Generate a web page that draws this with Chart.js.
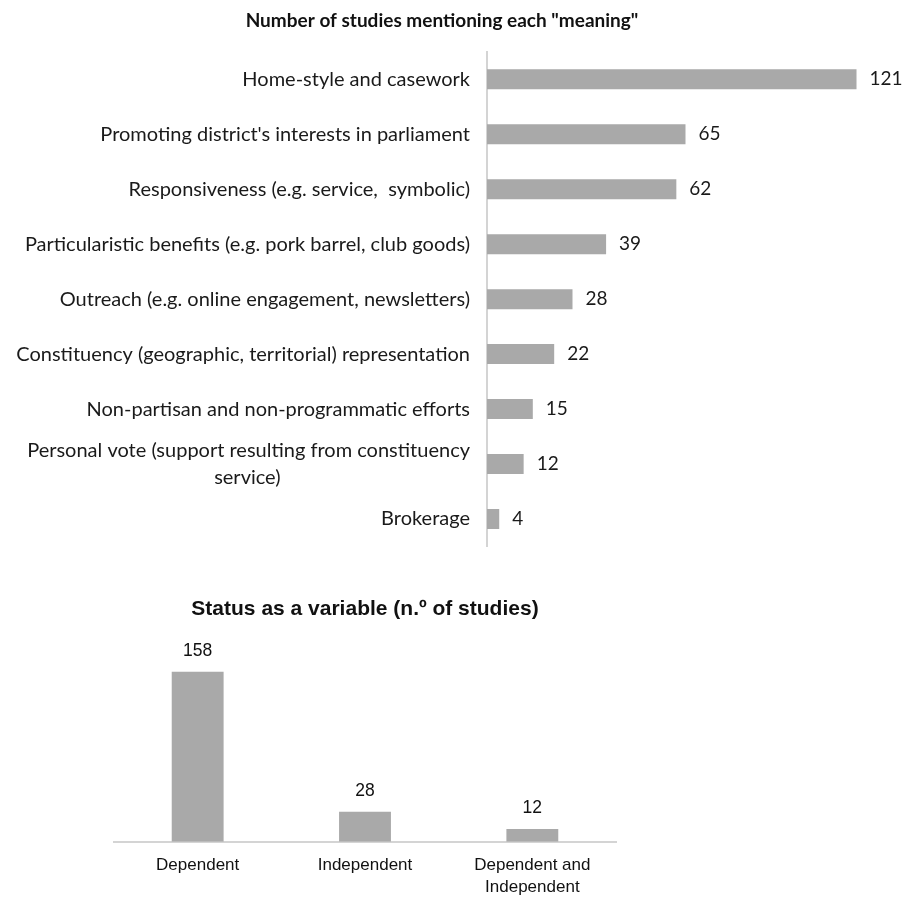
<!DOCTYPE html>
<html>
<head>
<meta charset="utf-8">
<script src="https://cdn.jsdelivr.net/npm/chart.js@4.4.1/dist/chart.umd.min.js"></script>
<style>
  html, body { margin: 0; padding: 0; background: #fff; }
  body { width: 906px; height: 897px; position: relative; overflow: hidden; }
  #meanings { position: absolute; left: 0; top: 0; }
  #status { position: absolute; left: 0; top: 585px; }
</style>
</head>
<body>
<canvas id="meanings" width="906" height="577"></canvas>
<canvas id="status" width="730" height="325"></canvas>
<script>
// Meanings of constituency service and how many studies mention each
const meaningLabels = [
  "Home-style and casework",
  "Promoting district's interests in parliament",
  "Responsiveness (e.g. service,  symbolic)",
  "Particularistic benefits (e.g. pork barrel, club goods)",
  "Outreach (e.g. online engagement, newsletters)",
  "Constituency (geographic, territorial) representation",
  "Non-partisan and non-programmatic efforts",
  ["Personal vote (support resulting from constituency", "service)"],
  "Brokerage"
];
const meaningCounts = [121, 65, 62, 39, 28, 22, 15, 12, 4];

// Status of the concept as a variable
const statusLabels = ["Dependent", "Independent", ["Dependent and", "Independent"]];
const statusCounts = [158, 28, 12];

const barGrey = "#a9a9a9";
const axisGrey = "#d4d4d4";
const topFont = "Lato, 'Open Sans', sans-serif";
const bottomFont = "'Liberation Sans', Arial, sans-serif";

// Writes each bar's value next to its end, placed through the chart's scales
function valueLabels(opts) {
  return {
    id: "valueLabels",
    afterDatasetsDraw(chart) {
      const ctx = chart.ctx;
      const meta = chart.getDatasetMeta(0);
      const data = chart.data.datasets[0].data;
      ctx.save();
      ctx.font = opts.font;
      ctx.fillStyle = opts.color;
      meta.data.forEach((bar, i) => {
        const p = bar.getProps(["x", "y"], true);
        if (opts.horizontal) {
          ctx.textAlign = "left";
          ctx.textBaseline = "middle";
          ctx.fillText(String(data[i]), p.x + opts.offset, p.y);
        } else {
          ctx.textAlign = "center";
          ctx.textBaseline = "bottom";
          ctx.fillText(String(data[i]), p.x, p.y - opts.offset);
        }
      });
      ctx.restore();
    }
  };
}

// Center the continuation line of a wrapped label under its first line
const measureCtx = document.createElement("canvas").getContext("2d");
function centredLines(lines, font) {
  if (!Array.isArray(lines)) return lines;
  measureCtx.font = font;
  const w0 = measureCtx.measureText(lines[0]).width;
  return lines.map((line, k) => {
    if (k === 0) return line;
    let s = line;
    const w = measureCtx.measureText(line).width;
    const target = (w0 - w) / 2;
    while (measureCtx.measureText(s).width - w < target) s += " ";
    return s;
  });
}

const topTickSize = 20;

new Chart(document.getElementById("meanings"), {
  type: "bar",
  data: {
    labels: meaningLabels,
    datasets: [{
      data: meaningCounts,
      backgroundColor: barGrey,
      borderWidth: 0,
      categoryPercentage: 1,
      barPercentage: 0.364
    }]
  },
  options: {
    indexAxis: "y",
    responsive: false,
    animation: false,
    layout: { padding: { left: 0, right: 22, top: 0, bottom: 0 } },
    plugins: {
      legend: { display: false },
      tooltip: { enabled: false },
      title: {
        display: true,
        text: 'Number of studies mentioning each "meaning"',
        color: "#111",
        font: { family: topFont, size: 19, weight: "bold", lineHeight: 1.2 },
        padding: { top: 9, bottom: 20 }
      }
    },
    scales: {
      x: {
        display: false,
        min: 0,
        max: 130
      },
      y: {
        afterFit(scale) { scale.width = 487; },
        grid: { display: false, drawTicks: false },
        border: { display: true, color: axisGrey, width: 2 },
        ticks: {
          color: "#1a1a1a",
          font: { family: topFont, size: topTickSize, lineHeight: 1.35 },
          padding: 17,
          callback(value) {
            return centredLines(this.getLabelForValue(value), topTickSize + "px " + topFont);
          }
        }
      }
    }
  },
  plugins: [valueLabels({ horizontal: true, offset: 13, font: "19px " + topFont, color: "#1a1a1a" })]
});

new Chart(document.getElementById("status"), {
  type: "bar",
  data: {
    labels: statusLabels,
    datasets: [{
      data: statusCounts,
      backgroundColor: barGrey,
      borderWidth: 0,
      categoryPercentage: 1,
      barPercentage: 0.31
    }]
  },
  options: {
    responsive: false,
    animation: false,
    layout: { padding: { left: 114, right: 114, top: 0, bottom: 0 } },
    plugins: {
      legend: { display: false },
      tooltip: { enabled: false },
      title: {
        display: true,
        text: "Status as a variable (n.º of studies)",
        color: "#111",
        font: { family: bottomFont, size: 21, weight: "bold", lineHeight: 1.2 },
        padding: { top: 12, bottom: 26 }
      }
    },
    scales: {
      y: { display: false, min: 0, max: 180 },
      x: {
        grid: { display: false, drawTicks: false },
        border: { display: true, color: axisGrey, width: 2 },
        ticks: {
          color: "#111",
          font: { family: bottomFont, size: 17, lineHeight: 1.3 },
          padding: 12,
          maxRotation: 0
        }
      }
    }
  },
  plugins: [valueLabels({ horizontal: false, offset: 12, font: "17.5px " + bottomFont, color: "#111" })]
});
</script>
</body>
</html>
